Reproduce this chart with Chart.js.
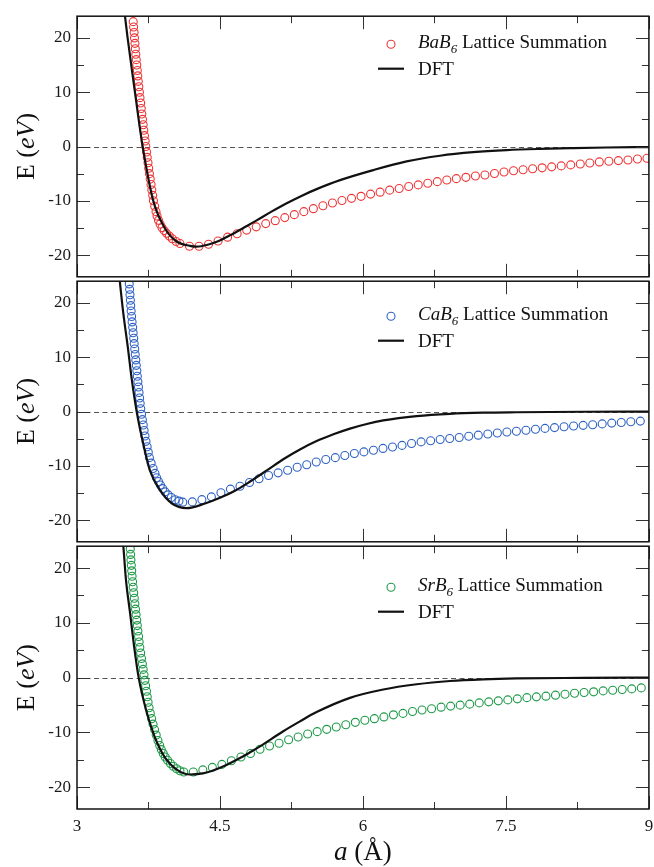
<!DOCTYPE html>
<html>
<head>
<meta charset="utf-8">
<script src="https://cdn.jsdelivr.net/npm/chart.js@4.4.1/dist/chart.umd.min.js"></script>
<style>
  html, body { margin: 0; padding: 0; background: #fff; }
  #wrap { position: relative; width: 654px; height: 867px; }
  #wrap canvas { position: absolute; left: 0; }
</style>
</head>
<body>
<div id="wrap">
  <canvas id="p1" width="654" height="293" style="top:0px"></canvas>
  <canvas id="p2" width="654" height="293" style="top:265px"></canvas>
  <canvas id="p3" width="654" height="337" style="top:530px"></canvas>
</div>
<script>
// axis ticks
const xMajor = [3, 4.5, 6, 7.5, 9];
const xMinor = [3.75, 5.25, 6.75, 8.25];
const yMajor = [-20, -10, 0, 10, 20];
const yMinor = [-15, -5, 5, 15];

const compounds = ['BaB6', 'CaB6', 'SrB6'];
const sumLabel = 'Lattice Summation';
const dftLabel = 'DFT';

// BaB6 lattice summation (a in Å, E in eV)
const baA = [3.590,3.594,3.599,3.603,3.608,3.612,3.617,3.622,3.627,3.633,3.638,3.643,3.649,3.655,3.661,3.668,3.674,3.680,
  3.687,3.694,3.701,3.708,3.715,3.722,3.730,3.737,3.745,3.752,3.760,3.768,3.777,3.785,3.794,3.802,3.815,3.829,
  3.840,3.855,3.872,3.892,3.915,3.940,3.968,4.000,4.040,
  4.08,4.18,4.28,4.38,4.48,4.58,4.68,4.78,4.88,4.98,5.08,5.18,5.28,5.38,5.48,5.58,5.68,5.78,5.88,5.98,6.08,6.18,6.28,6.38,6.48,
  6.58,6.68,6.78,6.88,6.98,7.08,7.18,7.28,7.38,7.48,7.58,7.68,7.78,7.88,7.98,8.08,8.18,8.28,8.38,8.48,8.58,8.68,8.78,8.88,8.98];
const baE = [23,22,21,20,19,18,17,16,15,14,13,12,11,10,9,8,7,6,
  5,4,3,2,1,0,-1,-2,-3,-4,-5,-6,-7,-8,-9,-10,-11,-12,
  -12.8,-13.6,-14.3,-14.95,-15.5,-16.0,-16.5,-17.0,-17.5,
  -17.88,-18.37,-18.37,-18.0,-17.4,-16.7,-16.07,-15.4,-14.8,-14.2,-13.66,-13.1,-12.55,-12.0,-11.45,-10.92,-10.4,-9.95,-9.55,-9.18,-8.77,-8.41,-8.04,-7.74,-7.37,
  -7.07,-6.77,-6.47,-6.16,-5.92,-5.68,-5.44,-5.26,-4.96,-4.71,-4.47,-4.29,-4.11,-3.93,-3.75,-3.57,-3.39,-3.21,-3.03,-2.84,-2.72,-2.6,-2.48,-2.3,-2.17];
const baDftA = [3.49,3.531,3.608,3.689,3.80,3.923,4.046,4.185,4.255,4.38,4.48,4.605,4.74,4.885,5.04,5.2,5.36,5.514,5.76,6.108,6.458,6.808,7.157,7.507,7.857,8.207,8.556,9.0];
const baDftE = [26,20,10,0,-10,-15.1,-17.5,-18.3,-18.45,-18.05,-17.45,-16.35,-15.05,-13.6,-12.0,-10.45,-9.05,-7.85,-6.2,-4.35,-2.75,-1.7,-1.05,-0.67,-0.45,-0.3,-0.18,-0.1];

// CaB6
const caA = [3.548,3.552,3.556,3.560,3.564,3.568,3.573,3.578,3.584,3.589,3.595,3.600,3.606,3.611,3.617,3.622,3.628,3.633,
  3.639,3.645,3.651,3.657,3.663,3.669,3.677,3.686,3.695,3.704,3.713,3.724,3.736,3.748,3.760,3.778,3.798,3.818,
  3.835,3.855,3.875,3.900,3.925,3.955,3.990,4.030,4.070,
  4.11,4.21,4.31,4.41,4.51,4.61,4.71,4.81,4.91,5.01,5.11,5.21,5.31,5.41,5.51,5.61,5.71,5.81,5.91,6.01,6.11,6.21,6.31,6.41,6.51,
  6.61,6.71,6.81,6.91,7.01,7.11,7.21,7.31,7.41,7.51,7.61,7.71,7.81,7.91,8.01,8.11,8.21,8.31,8.41,8.51,8.61,8.71,8.81,8.91];
const caE = [23.5,22.5,21.5,20.5,19.5,18.5,17.5,16.5,15.5,14.5,13.5,12.5,11.5,10.5,9.5,8.5,7.5,6.5,
  5.5,4.5,3.5,2.5,1.5,0.5,-0.5,-1.5,-2.5,-3.5,-4.5,-5.5,-6.5,-7.5,-8.5,-9.5,-10.5,-11.4,
  -12.2,-12.9,-13.55,-14.2,-14.8,-15.35,-15.85,-16.25,-16.5,
  -16.7,-16.65,-16.24,-15.72,-14.97,-14.3,-13.77,-13.07,-12.38,-11.8,-11.3,-10.82,-10.27,-9.8,-9.3,-8.85,-8.5,-8.1,-7.74,-7.44,-7.14,-6.8,-6.53,-6.24,-5.9,
  -5.6,-5.39,-5.15,-4.97,-4.79,-4.56,-4.36,-4.14,-3.95,-3.78,-3.63,-3.45,-3.28,-3.11,-2.97,-2.82,-2.68,-2.55,-2.43,-2.28,-2.14,-2.02,-1.9,-1.77];
const caDftA = [3.44,3.486,3.532,3.574,3.626,3.696,3.766,3.871,3.993,4.15,4.343,4.5,4.657,4.82,5.0,5.164,5.339,5.514,5.69,5.864,6.04,6.213,6.563,6.913,7.26,7.61,8.31,9.0];
const caDftE = [25.5,18.06,12,6,0,-6,-10.9,-14.5,-16.9,-17.8,-16.95,-15.9,-14.6,-12.85,-10.75,-8.8,-7.0,-5.45,-4.2,-3.15,-2.3,-1.65,-0.85,-0.42,-0.22,-0.14,-0.05,0];

// SrB6
const srA = [3.559,3.562,3.566,3.570,3.574,3.578,3.583,3.589,3.595,3.601,3.607,3.614,3.620,3.627,3.633,3.639,3.646,3.652,
  3.659,3.668,3.677,3.686,3.694,3.703,3.712,3.720,3.729,3.737,3.746,3.756,3.769,3.783,3.798,3.814,3.831,3.849,3.868,
  3.885,3.905,3.925,3.950,3.980,4.010,4.045,4.080,
  4.12,4.22,4.32,4.42,4.52,4.62,4.72,4.82,4.92,5.02,5.12,5.22,5.32,5.42,5.52,5.62,5.72,5.82,5.92,6.02,6.12,6.22,6.32,6.42,6.52,
  6.62,6.72,6.82,6.92,7.02,7.12,7.22,7.32,7.42,7.52,7.62,7.72,7.82,7.92,8.02,8.12,8.22,8.32,8.42,8.52,8.62,8.72,8.82,8.92];
const srE = [23.5,22.5,21.5,20.5,19.5,18.5,17.5,16.5,15.5,14.5,13.5,12.5,11.5,10.5,9.5,8.5,7.5,6.5,
  5.5,4.5,3.5,2.5,1.5,0.5,-0.5,-1.5,-2.5,-3.5,-4.5,-5.5,-6.5,-7.5,-8.5,-9.5,-10.5,-11.5,-12.4,
  -13.15,-13.85,-14.5,-15.1,-15.7,-16.2,-16.65,-17.0,
  -17.25,-17.25,-16.85,-16.4,-15.85,-15.2,-14.5,-13.85,-13.1,-12.5,-11.98,-11.35,-10.85,-10.3,-9.87,-9.45,-9.02,-8.6,-8.17,-7.78,-7.5,-7.18,-6.8,-6.54,-6.18,
  -5.93,-5.69,-5.4,-5.21,-5.03,-4.85,-4.62,-4.43,-4.25,-4.07,-3.88,-3.66,-3.52,-3.39,-3.21,-3.03,-2.86,-2.72,-2.6,-2.43,-2.3,-2.18,-2.06,-1.88];
const srDftA = [3.47,3.486,3.513,3.556,3.598,3.647,3.73,3.81,3.87,3.923,4.046,4.185,4.30,4.413,4.52,4.72,4.82,4.92,5.164,5.339,5.514,5.864,6.213,6.563,6.913,7.26,7.61,8.31,9.0];
const srDftE = [26.5,24,18,11.9,5.86,0,-6.24,-10.6,-13.0,-14.6,-16.8,-17.7,-17.55,-17.05,-16.35,-14.6,-13.6,-12.55,-9.8,-8.0,-6.3,-3.7,-2.18,-1.22,-0.62,-0.31,-0.15,-0.06,0];

const SERIF = '"Liberation Serif", "DejaVu Serif", serif';

function drawParts(ctx, parts, x, y, align) {
  // parts: [text, font, dy]
  let total = 0;
  for (const p of parts) { ctx.font = p[1]; total += ctx.measureText(p[0]).width; }
  let cx = align === 'center' ? x - total / 2 : x;
  for (const p of parts) {
    ctx.font = p[1];
    ctx.fillText(p[0], cx, y + (p[2] || 0));
    cx += ctx.measureText(p[0]).width;
  }
}

const panelDeco = {
  id: 'panelDeco',
  beforeDatasetsDraw(chart) {
    const { ctx, chartArea: a, scales: { y } } = chart;
    const y0 = Math.round(y.getPixelForValue(0)) + 0.5;
    ctx.save();
    ctx.strokeStyle = '#555';
    ctx.lineWidth = 1;
    ctx.setLineDash([5, 3.5]);
    ctx.beginPath();
    ctx.moveTo(a.left, y0);
    ctx.lineTo(a.right, y0);
    ctx.stroke();
    ctx.restore();
  },
  afterDatasetsDraw(chart, args, opts) {
    const { ctx, chartArea: a, scales: { x, y } } = chart;
    ctx.save();
    // tick marks pointing inwards on all four sides
    ctx.strokeStyle = '#333';
    ctx.lineWidth = 1;
    ctx.beginPath();
    const xt = (v, len) => {
      const px = Math.round(x.getPixelForValue(v)) + 0.5;
      ctx.moveTo(px, a.top); ctx.lineTo(px, a.top + len);
      ctx.moveTo(px, a.bottom); ctx.lineTo(px, a.bottom - len);
    };
    const yt = (v, len) => {
      const py = Math.round(y.getPixelForValue(v)) + 0.5;
      ctx.moveTo(a.left, py); ctx.lineTo(a.left + len, py);
      ctx.moveTo(a.right, py); ctx.lineTo(a.right - len, py);
    };
    xMajor.forEach(v => xt(v, 13));
    xMinor.forEach(v => xt(v, 7));
    yMajor.forEach(v => yt(v, 13));
    yMinor.forEach(v => yt(v, 7));
    ctx.stroke();

    // frame
    ctx.strokeStyle = '#111';
    ctx.lineWidth = 1.5;
    ctx.strokeRect(a.left, a.top, a.right - a.left, a.bottom - a.top);

    // legend
    const ds0 = chart.data.datasets[1];
    const b1 = a.top + opts.legendDy;
    const b2 = b1 + 27;
    ctx.strokeStyle = ds0.borderColor;
    ctx.lineWidth = 1.1;
    ctx.beginPath();
    ctx.arc(391, b1 - 4, 4, 0, Math.PI * 2);
    ctx.stroke();
    ctx.strokeStyle = '#111';
    ctx.lineWidth = 2.2;
    ctx.beginPath();
    ctx.moveTo(378, b2 - 6.5);
    ctx.lineTo(404, b2 - 6.5);
    ctx.stroke();
    ctx.fillStyle = '#111';
    ctx.textBaseline = 'alphabetic';
    ctx.textAlign = 'left';
    const nm = opts.name;
    drawParts(ctx, [
      [nm.slice(0, -1), 'italic 19px ' + SERIF, 0],
      [nm.slice(-1), 'italic 13px ' + SERIF, 5],
      [' ' + sumLabel, '19px ' + SERIF, 0]
    ], 418, b1, 'left');
    drawParts(ctx, [[dftLabel, '19px ' + SERIF, 0]], 418, b2, 'left');

    // y axis title
    ctx.save();
    ctx.translate(34, (a.top + a.bottom) / 2);
    ctx.rotate(-Math.PI / 2);
    drawParts(ctx, [
      ['E (', '26px ' + SERIF, 0],
      ['eV', 'italic 26px ' + SERIF, 0],
      [')', '26px ' + SERIF, 0]
    ], 0, 0, 'center');
    ctx.restore();

    // x axis title
    if (opts.xTitle) {
      drawParts(ctx, [
        ['a', 'italic 27px ' + SERIF, 0],
        [' (Å)', '27px ' + SERIF, 0]
      ], (a.left + a.right) / 2, a.bottom + 51, 'center');
    }
    ctx.restore();
  }
};

function pts(xs, ys) {
  return xs.map((v, i) => ({ x: v, y: ys[i] }));
}

function makePanel(id, idx, sumA, sumE, dftA, dftE, color, legendDy, bottom) {
  return new Chart(document.getElementById(id), {
    type: 'line',
    data: {
      datasets: [
        { label: dftLabel, data: pts(dftA, dftE), borderColor: '#111', borderWidth: 2.2,
          pointRadius: 0, cubicInterpolationMode: 'monotone', fill: false, order: 0, clip: 0 },
        { label: sumLabel, data: pts(sumA, sumE), showLine: false, borderColor: color,
          backgroundColor: 'rgba(0,0,0,0)', pointRadius: 4, pointBorderWidth: 1.1, order: 1 }
      ]
    },
    options: {
      responsive: false,
      animation: false,
      events: [],
      layout: { padding: { left: 0, right: 5, top: 14, bottom: bottom ? 0 : 14 } },
      plugins: {
        legend: { display: false },
        tooltip: { enabled: false },
        panelDeco: { name: compounds[idx], legendDy: legendDy, xTitle: bottom }
      },
      scales: {
        x: {
          type: 'linear', min: 3, max: 9, display: bottom,
          afterBuildTicks: s => { s.ticks = xMajor.map(v => ({ value: v })); },
          afterFit: s => { s.height = bottom ? 58 : 0; },
          grid: { display: false, drawTicks: true, tickLength: 7 },
          border: { display: false },
          ticks: { font: { family: SERIF, size: 17 }, color: '#1a1a1a', padding: 0, maxRotation: 0, autoSkip: false }
        },
        y: {
          type: 'linear', min: -24, max: 24,
          afterBuildTicks: s => { s.ticks = yMajor.map(v => ({ value: v })); },
          afterFit: s => { s.width = 77; },
          grid: { display: false, drawTicks: false, tickLength: 0 },
          border: { display: false },
          ticks: { font: { family: SERIF, size: 17 }, color: '#1a1a1a', padding: 6 }
        }
      }
    },
    plugins: [panelDeco]
  });
}

makePanel('p1', 0, baA, baE, baDftA, baDftE, '#ee3535', 32, false);
makePanel('p2', 1, caA, caE, caDftA, caDftE, '#2f62c6', 39, false);
makePanel('p3', 2, srA, srE, srDftA, srDftE, '#1d9a48', 45, true);
</script>
</body>
</html>
